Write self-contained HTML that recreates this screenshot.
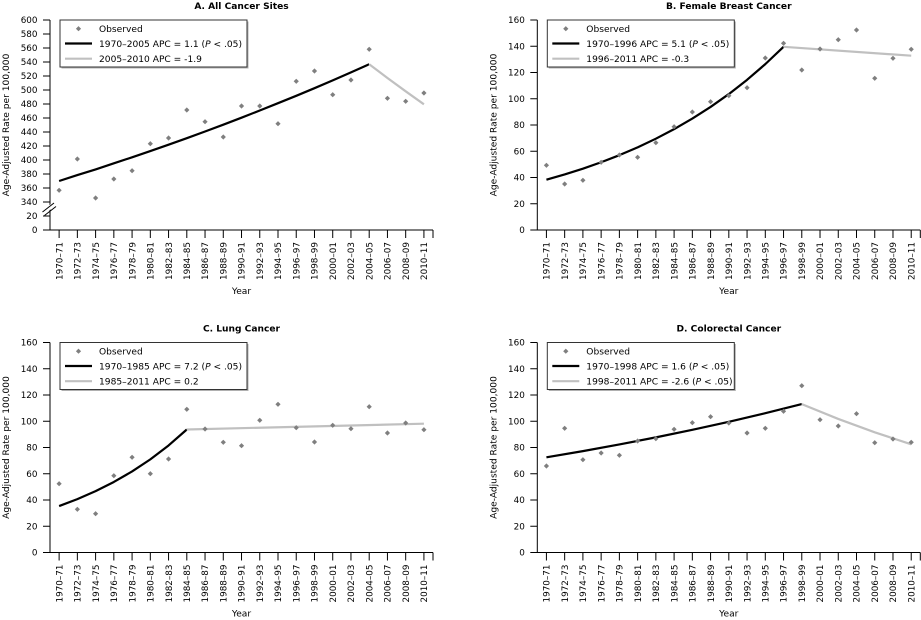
<!DOCTYPE html>
<html><head><meta charset="utf-8"><style>
html,body{margin:0;padding:0;background:#fff;}
svg{display:block;font-family:"DejaVu Sans","Liberation Sans",sans-serif;}
.tk{font-size:8.8px;fill:#000;}
.lg{font-size:9.1px;fill:#000;}
.ti{font-size:9.1px;font-weight:bold;fill:#000;}
.ax{font-size:9.1px;fill:#000;}
</style></head><body>
<svg width="921" height="620" viewBox="0 0 921 620" xmlns="http://www.w3.org/2000/svg">
<rect width="921" height="620" fill="#fff"/>

<!-- ================= PANEL A ================= -->
<g>
<text class="ti" x="241.5" y="8.8" text-anchor="middle">A. All Cancer Sites</text>
<text class="ax" transform="translate(9,125) rotate(-90)" text-anchor="middle">Age-Adjusted Rate per 100,000</text>
<path d="M50 20V230H433M433 230v8" stroke="#000" stroke-width="1" fill="none"/>
<path d="M43 20H50M43 34H50M43 48H50M43 62H50M43 76H50M43 90H50M43 104H50M43 118H50M43 132H50M43 146H50M43 160H50M43 174H50M43 188H50M43 202H50M43 216H50M43 230H50" stroke="#000" stroke-width="1"/>
<polygon points="42,211 56,200 56,205 42,216" fill="#fff"/>
<path d="M42.5 212L54 203M44.5 215.5L56 206.5" stroke="#000" stroke-width="1"/>
<g class="tk" text-anchor="end">
<text x="37.5" y="23.2">600</text><text x="37.5" y="37.2">580</text><text x="37.5" y="51.2">560</text><text x="37.5" y="65.2">540</text><text x="37.5" y="79.2">520</text><text x="37.5" y="93.2">500</text><text x="37.5" y="107.2">480</text><text x="37.5" y="121.2">460</text><text x="37.5" y="135.2">440</text><text x="37.5" y="149.2">420</text><text x="37.5" y="163.2">400</text><text x="37.5" y="177.2">380</text><text x="37.5" y="191.2">360</text><text x="37.5" y="205.2">340</text><text x="37.5" y="219.2">20</text><text x="37.5" y="233.2">0</text>
</g>
<path d="M59.12 230v8M77.36 230v8M95.6 230v8M113.84 230v8M132.08 230v8M150.32 230v8M168.56 230v8M186.8 230v8M205.04 230v8M223.28 230v8M241.52 230v8M259.76 230v8M278 230v8M296.24 230v8M314.48 230v8M332.72 230v8M350.96 230v8M369.2 230v8M387.44 230v8M405.68 230v8M423.92 230v8" stroke="#000" stroke-width="1"/>
<g class="tk" text-anchor="end">
<text transform="translate(62.32,242) rotate(-90)">1970–71</text><text transform="translate(80.56,242) rotate(-90)">1972–73</text><text transform="translate(98.8,242) rotate(-90)">1974–75</text><text transform="translate(117.04,242) rotate(-90)">1976–77</text><text transform="translate(135.28,242) rotate(-90)">1978–79</text><text transform="translate(153.52,242) rotate(-90)">1980–81</text><text transform="translate(171.76,242) rotate(-90)">1982–83</text><text transform="translate(190,242) rotate(-90)">1984–85</text><text transform="translate(208.24,242) rotate(-90)">1986–87</text><text transform="translate(226.48,242) rotate(-90)">1988–89</text><text transform="translate(244.72,242) rotate(-90)">1990–91</text><text transform="translate(262.96,242) rotate(-90)">1992–93</text><text transform="translate(281.2,242) rotate(-90)">1994–95</text><text transform="translate(299.44,242) rotate(-90)">1996–97</text><text transform="translate(317.68,242) rotate(-90)">1998–99</text><text transform="translate(335.92,242) rotate(-90)">2000–01</text><text transform="translate(354.16,242) rotate(-90)">2002–03</text><text transform="translate(372.4,242) rotate(-90)">2004–05</text><text transform="translate(390.64,242) rotate(-90)">2006–07</text><text transform="translate(408.88,242) rotate(-90)">2008–09</text><text transform="translate(427.12,242) rotate(-90)">2010–11</text>
</g>
<text class="ax" x="241.5" y="294" text-anchor="middle">Year</text>
<polyline points="59.12,181 77.36,175.1 95.6,169.4 113.84,163.3 132.08,157.3 150.32,151.1 168.56,144.7 186.8,138.2 205.04,131.5 223.28,124.7 241.52,117.7 259.76,110.5 278,103.2 296.24,95.8 314.48,88.2 332.72,80.4 350.96,72.4 369.2,64.3" fill="none" stroke="#000" stroke-width="2.2" stroke-linejoin="round"/>
<polyline points="369.2,64.3 387.44,78 405.68,91.3 423.92,104.3" fill="none" stroke="#c0c0c0" stroke-width="2.2" stroke-linejoin="round"/>
<path fill="#7f7f7f" d="M59.12 190.3m0-2.6l2.6 2.6-2.6 2.6-2.6-2.6zM77.36 159m0-2.6l2.6 2.6-2.6 2.6-2.6-2.6zM95.6 198m0-2.6l2.6 2.6-2.6 2.6-2.6-2.6zM113.84 179m0-2.6l2.6 2.6-2.6 2.6-2.6-2.6zM132.08 170.7m0-2.6l2.6 2.6-2.6 2.6-2.6-2.6zM150.32 143.7m0-2.6l2.6 2.6-2.6 2.6-2.6-2.6zM168.56 138m0-2.6l2.6 2.6-2.6 2.6-2.6-2.6zM186.8 110m0-2.6l2.6 2.6-2.6 2.6-2.6-2.6zM205.04 121.7m0-2.6l2.6 2.6-2.6 2.6-2.6-2.6zM223.28 137m0-2.6l2.6 2.6-2.6 2.6-2.6-2.6zM241.52 106m0-2.6l2.6 2.6-2.6 2.6-2.6-2.6zM259.76 106m0-2.6l2.6 2.6-2.6 2.6-2.6-2.6zM278 123.7m0-2.6l2.6 2.6-2.6 2.6-2.6-2.6zM296.24 81.3m0-2.6l2.6 2.6-2.6 2.6-2.6-2.6zM314.48 71m0-2.6l2.6 2.6-2.6 2.6-2.6-2.6zM332.72 94.7m0-2.6l2.6 2.6-2.6 2.6-2.6-2.6zM350.96 80m0-2.6l2.6 2.6-2.6 2.6-2.6-2.6zM369.2 49.3m0-2.6l2.6 2.6-2.6 2.6-2.6-2.6zM387.44 98.3m0-2.6l2.6 2.6-2.6 2.6-2.6-2.6zM405.68 101.3m0-2.6l2.6 2.6-2.6 2.6-2.6-2.6zM423.92 93m0-2.6l2.6 2.6-2.6 2.6-2.6-2.6z"/>
<rect x="61.5" y="21.5" width="187" height="47" fill="#b0b0b0"/>
<rect x="60" y="20" width="187" height="47" fill="#fff" stroke="#333" stroke-width="1"/>
<path fill="#7f7f7f" d="M78.5 28.7m0-2.6l2.6 2.6-2.6 2.6-2.6-2.6z"/>
<line x1="65" y1="43.5" x2="92" y2="43.5" stroke="#000" stroke-width="2.2"/>
<line x1="65" y1="58.7" x2="92" y2="58.7" stroke="#c0c0c0" stroke-width="2.2"/>
<text class="lg" x="99" y="32">Observed</text>
<text class="lg" x="99" y="47">1970–2005 APC = 1.1 (<tspan font-style="italic">P</tspan> &lt; .05)</text>
<text class="lg" x="99" y="62">2005–2010 APC = -1.9</text>
</g>

<!-- ================= PANEL B ================= -->
<g transform="translate(487.3,0)">
<text class="ti" x="241.5" y="8.8" text-anchor="middle">B. Female Breast Cancer</text>
<text class="ax" transform="translate(9,125) rotate(-90)" text-anchor="middle">Age-Adjusted Rate per 100,000</text>
<path d="M50 20V230H433M433 230v8" stroke="#000" stroke-width="1" fill="none"/>
<path d="M43 20H50M43 46.25H50M43 72.5H50M43 98.75H50M43 125H50M43 151.25H50M43 177.5H50M43 203.75H50M43 230H50" stroke="#000" stroke-width="1"/>
<g class="tk" text-anchor="end">
<text x="37.5" y="23.2">160</text><text x="37.5" y="49.45">140</text><text x="37.5" y="75.7">120</text><text x="37.5" y="101.95">100</text><text x="37.5" y="128.2">80</text><text x="37.5" y="154.45">60</text><text x="37.5" y="180.7">40</text><text x="37.5" y="206.95">20</text><text x="37.5" y="233.2">0</text>
</g>
<path d="M59.12 230v8M77.36 230v8M95.6 230v8M113.84 230v8M132.08 230v8M150.32 230v8M168.56 230v8M186.8 230v8M205.04 230v8M223.28 230v8M241.52 230v8M259.76 230v8M278 230v8M296.24 230v8M314.48 230v8M332.72 230v8M350.96 230v8M369.2 230v8M387.44 230v8M405.68 230v8M423.92 230v8" stroke="#000" stroke-width="1"/>
<g class="tk" text-anchor="end">
<text transform="translate(62.32,242) rotate(-90)">1970–71</text><text transform="translate(80.56,242) rotate(-90)">1972–73</text><text transform="translate(98.8,242) rotate(-90)">1974–75</text><text transform="translate(117.04,242) rotate(-90)">1976–77</text><text transform="translate(135.28,242) rotate(-90)">1978–79</text><text transform="translate(153.52,242) rotate(-90)">1980–81</text><text transform="translate(171.76,242) rotate(-90)">1982–83</text><text transform="translate(190,242) rotate(-90)">1984–85</text><text transform="translate(208.24,242) rotate(-90)">1986–87</text><text transform="translate(226.48,242) rotate(-90)">1988–89</text><text transform="translate(244.72,242) rotate(-90)">1990–91</text><text transform="translate(262.96,242) rotate(-90)">1992–93</text><text transform="translate(281.2,242) rotate(-90)">1994–95</text><text transform="translate(299.44,242) rotate(-90)">1996–97</text><text transform="translate(317.68,242) rotate(-90)">1998–99</text><text transform="translate(335.92,242) rotate(-90)">2000–01</text><text transform="translate(354.16,242) rotate(-90)">2002–03</text><text transform="translate(372.4,242) rotate(-90)">2004–05</text><text transform="translate(390.64,242) rotate(-90)">2006–07</text><text transform="translate(408.88,242) rotate(-90)">2008–09</text><text transform="translate(427.12,242) rotate(-90)">2010–11</text>
</g>
<text class="ax" x="241.5" y="294" text-anchor="middle">Year</text>
<polyline points="59.12,179.73 77.36,174.47 95.6,168.67 113.84,162.25 132.08,155.17 150.32,147.34 168.56,138.69 186.8,129.14 205.04,118.6 223.28,106.94 241.52,94.07 259.76,79.85 278,64.14 296.24,46.79" fill="none" stroke="#000" stroke-width="2.2" stroke-linejoin="round"/>
<polyline points="296.24,46.79 423.92,55.7" fill="none" stroke="#c0c0c0" stroke-width="2.2"/>
<path fill="#7f7f7f" d="M59.12 165.3m0-2.6l2.6 2.6-2.6 2.6-2.6-2.6zM77.36 184m0-2.6l2.6 2.6-2.6 2.6-2.6-2.6zM95.6 180.3m0-2.6l2.6 2.6-2.6 2.6-2.6-2.6zM113.84 162.3m0-2.6l2.6 2.6-2.6 2.6-2.6-2.6zM132.08 155m0-2.6l2.6 2.6-2.6 2.6-2.6-2.6zM150.32 157.3m0-2.6l2.6 2.6-2.6 2.6-2.6-2.6zM168.56 142.7m0-2.6l2.6 2.6-2.6 2.6-2.6-2.6zM186.8 126.7m0-2.6l2.6 2.6-2.6 2.6-2.6-2.6zM205.04 112m0-2.6l2.6 2.6-2.6 2.6-2.6-2.6zM223.28 101.7m0-2.6l2.6 2.6-2.6 2.6-2.6-2.6zM241.52 95.7m0-2.6l2.6 2.6-2.6 2.6-2.6-2.6zM259.76 87.7m0-2.6l2.6 2.6-2.6 2.6-2.6-2.6zM278 58m0-2.6l2.6 2.6-2.6 2.6-2.6-2.6zM296.24 43.3m0-2.6l2.6 2.6-2.6 2.6-2.6-2.6zM314.48 70m0-2.6l2.6 2.6-2.6 2.6-2.6-2.6zM332.72 49m0-2.6l2.6 2.6-2.6 2.6-2.6-2.6zM350.96 39.7m0-2.6l2.6 2.6-2.6 2.6-2.6-2.6zM369.2 30m0-2.6l2.6 2.6-2.6 2.6-2.6-2.6zM387.44 78.3m0-2.6l2.6 2.6-2.6 2.6-2.6-2.6zM405.68 58.3m0-2.6l2.6 2.6-2.6 2.6-2.6-2.6zM423.92 49.3m0-2.6l2.6 2.6-2.6 2.6-2.6-2.6z"/>
<rect x="61.5" y="21.5" width="187" height="47" fill="#b0b0b0"/>
<rect x="60" y="20" width="187" height="47" fill="#fff" stroke="#333" stroke-width="1"/>
<path fill="#7f7f7f" d="M78.5 28.7m0-2.6l2.6 2.6-2.6 2.6-2.6-2.6z"/>
<line x1="65" y1="43.5" x2="92" y2="43.5" stroke="#000" stroke-width="2.2"/>
<line x1="65" y1="58.7" x2="92" y2="58.7" stroke="#c0c0c0" stroke-width="2.2"/>
<text class="lg" x="99" y="32">Observed</text>
<text class="lg" x="99" y="47">1970–1996 APC = 5.1 (<tspan font-style="italic">P</tspan> &lt; .05)</text>
<text class="lg" x="99" y="62">1996–2011 APC = -0.3</text>
</g>

<!-- ================= PANEL C ================= -->
<g transform="translate(0,322.5)">
<text class="ti" x="241.5" y="8.8" text-anchor="middle">C. Lung Cancer</text>
<text class="ax" transform="translate(9,125) rotate(-90)" text-anchor="middle">Age-Adjusted Rate per 100,000</text>
<path d="M50 20V230H433M433 230v8" stroke="#000" stroke-width="1" fill="none"/>
<path d="M43 20H50M43 46.25H50M43 72.5H50M43 98.75H50M43 125H50M43 151.25H50M43 177.5H50M43 203.75H50M43 230H50" stroke="#000" stroke-width="1"/>
<g class="tk" text-anchor="end">
<text x="37.5" y="23.2">160</text><text x="37.5" y="49.45">140</text><text x="37.5" y="75.7">120</text><text x="37.5" y="101.95">100</text><text x="37.5" y="128.2">80</text><text x="37.5" y="154.45">60</text><text x="37.5" y="180.7">40</text><text x="37.5" y="206.95">20</text><text x="37.5" y="233.2">0</text>
</g>
<path d="M59.12 230v8M77.36 230v8M95.6 230v8M113.84 230v8M132.08 230v8M150.32 230v8M168.56 230v8M186.8 230v8M205.04 230v8M223.28 230v8M241.52 230v8M259.76 230v8M278 230v8M296.24 230v8M314.48 230v8M332.72 230v8M350.96 230v8M369.2 230v8M387.44 230v8M405.68 230v8M423.92 230v8" stroke="#000" stroke-width="1"/>
<g class="tk" text-anchor="end">
<text transform="translate(62.32,242) rotate(-90)">1970–71</text><text transform="translate(80.56,242) rotate(-90)">1972–73</text><text transform="translate(98.8,242) rotate(-90)">1974–75</text><text transform="translate(117.04,242) rotate(-90)">1976–77</text><text transform="translate(135.28,242) rotate(-90)">1978–79</text><text transform="translate(153.52,242) rotate(-90)">1980–81</text><text transform="translate(171.76,242) rotate(-90)">1982–83</text><text transform="translate(190,242) rotate(-90)">1984–85</text><text transform="translate(208.24,242) rotate(-90)">1986–87</text><text transform="translate(226.48,242) rotate(-90)">1988–89</text><text transform="translate(244.72,242) rotate(-90)">1990–91</text><text transform="translate(262.96,242) rotate(-90)">1992–93</text><text transform="translate(281.2,242) rotate(-90)">1994–95</text><text transform="translate(299.44,242) rotate(-90)">1996–97</text><text transform="translate(317.68,242) rotate(-90)">1998–99</text><text transform="translate(335.92,242) rotate(-90)">2000–01</text><text transform="translate(354.16,242) rotate(-90)">2002–03</text><text transform="translate(372.4,242) rotate(-90)">2004–05</text><text transform="translate(390.64,242) rotate(-90)">2006–07</text><text transform="translate(408.88,242) rotate(-90)">2008–09</text><text transform="translate(427.12,242) rotate(-90)">2010–11</text>
</g>
<text class="ax" x="241.5" y="294" text-anchor="middle">Year</text>
<polyline points="59.12,183.54 77.36,176.6 95.6,168.64 113.84,159.48 132.08,148.95 150.32,136.86 168.56,122.97 186.8,106.99" fill="none" stroke="#000" stroke-width="2.2" stroke-linejoin="round"/>
<polyline points="186.8,107 423.92,101.2" fill="none" stroke="#c0c0c0" stroke-width="2.2"/>
<path fill="#7f7f7f" d="M59.12 161.2m0-2.6l2.6 2.6-2.6 2.6-2.6-2.6zM77.36 186.8m0-2.6l2.6 2.6-2.6 2.6-2.6-2.6zM95.6 191.2m0-2.6l2.6 2.6-2.6 2.6-2.6-2.6zM113.84 153.2m0-2.6l2.6 2.6-2.6 2.6-2.6-2.6zM132.08 134.8m0-2.6l2.6 2.6-2.6 2.6-2.6-2.6zM150.32 151.2m0-2.6l2.6 2.6-2.6 2.6-2.6-2.6zM168.56 136.5m0-2.6l2.6 2.6-2.6 2.6-2.6-2.6zM186.8 86.8m0-2.6l2.6 2.6-2.6 2.6-2.6-2.6zM205.04 106.5m0-2.6l2.6 2.6-2.6 2.6-2.6-2.6zM223.28 119.8m0-2.6l2.6 2.6-2.6 2.6-2.6-2.6zM241.52 123.2m0-2.6l2.6 2.6-2.6 2.6-2.6-2.6zM259.76 97.8m0-2.6l2.6 2.6-2.6 2.6-2.6-2.6zM278 81.8m0-2.6l2.6 2.6-2.6 2.6-2.6-2.6zM296.24 105.2m0-2.6l2.6 2.6-2.6 2.6-2.6-2.6zM314.48 119.5m0-2.6l2.6 2.6-2.6 2.6-2.6-2.6zM332.72 102.8m0-2.6l2.6 2.6-2.6 2.6-2.6-2.6zM350.96 106.2m0-2.6l2.6 2.6-2.6 2.6-2.6-2.6zM369.2 84.2m0-2.6l2.6 2.6-2.6 2.6-2.6-2.6zM387.44 110.5m0-2.6l2.6 2.6-2.6 2.6-2.6-2.6zM405.68 100.5m0-2.6l2.6 2.6-2.6 2.6-2.6-2.6zM423.92 107.2m0-2.6l2.6 2.6-2.6 2.6-2.6-2.6z"/>
<rect x="61.5" y="21.5" width="187" height="47" fill="#b0b0b0"/>
<rect x="60" y="20" width="187" height="47" fill="#fff" stroke="#333" stroke-width="1"/>
<path fill="#7f7f7f" d="M78.5 28.7m0-2.6l2.6 2.6-2.6 2.6-2.6-2.6z"/>
<line x1="65" y1="43.5" x2="92" y2="43.5" stroke="#000" stroke-width="2.2"/>
<line x1="65" y1="58.7" x2="92" y2="58.7" stroke="#c0c0c0" stroke-width="2.2"/>
<text class="lg" x="99" y="32">Observed</text>
<text class="lg" x="99" y="47">1970–1985 APC = 7.2 (<tspan font-style="italic">P</tspan> &lt; .05)</text>
<text class="lg" x="99" y="62">1985–2011 APC = 0.2</text>
</g>

<!-- ================= PANEL D ================= -->
<g transform="translate(487.3,322.5)">
<text class="ti" x="241.5" y="8.8" text-anchor="middle">D. Colorectal Cancer</text>
<text class="ax" transform="translate(9,125) rotate(-90)" text-anchor="middle">Age-Adjusted Rate per 100,000</text>
<path d="M50 20V230H433M433 230v8" stroke="#000" stroke-width="1" fill="none"/>
<path d="M43 20H50M43 46.25H50M43 72.5H50M43 98.75H50M43 125H50M43 151.25H50M43 177.5H50M43 203.75H50M43 230H50" stroke="#000" stroke-width="1"/>
<g class="tk" text-anchor="end">
<text x="37.5" y="23.2">160</text><text x="37.5" y="49.45">140</text><text x="37.5" y="75.7">120</text><text x="37.5" y="101.95">100</text><text x="37.5" y="128.2">80</text><text x="37.5" y="154.45">60</text><text x="37.5" y="180.7">40</text><text x="37.5" y="206.95">20</text><text x="37.5" y="233.2">0</text>
</g>
<path d="M59.12 230v8M77.36 230v8M95.6 230v8M113.84 230v8M132.08 230v8M150.32 230v8M168.56 230v8M186.8 230v8M205.04 230v8M223.28 230v8M241.52 230v8M259.76 230v8M278 230v8M296.24 230v8M314.48 230v8M332.72 230v8M350.96 230v8M369.2 230v8M387.44 230v8M405.68 230v8M423.92 230v8" stroke="#000" stroke-width="1"/>
<g class="tk" text-anchor="end">
<text transform="translate(62.32,242) rotate(-90)">1970–71</text><text transform="translate(80.56,242) rotate(-90)">1972–73</text><text transform="translate(98.8,242) rotate(-90)">1974–75</text><text transform="translate(117.04,242) rotate(-90)">1976–77</text><text transform="translate(135.28,242) rotate(-90)">1978–79</text><text transform="translate(153.52,242) rotate(-90)">1980–81</text><text transform="translate(171.76,242) rotate(-90)">1982–83</text><text transform="translate(190,242) rotate(-90)">1984–85</text><text transform="translate(208.24,242) rotate(-90)">1986–87</text><text transform="translate(226.48,242) rotate(-90)">1988–89</text><text transform="translate(244.72,242) rotate(-90)">1990–91</text><text transform="translate(262.96,242) rotate(-90)">1992–93</text><text transform="translate(281.2,242) rotate(-90)">1994–95</text><text transform="translate(299.44,242) rotate(-90)">1996–97</text><text transform="translate(317.68,242) rotate(-90)">1998–99</text><text transform="translate(335.92,242) rotate(-90)">2000–01</text><text transform="translate(354.16,242) rotate(-90)">2002–03</text><text transform="translate(372.4,242) rotate(-90)">2004–05</text><text transform="translate(390.64,242) rotate(-90)">2006–07</text><text transform="translate(408.88,242) rotate(-90)">2008–09</text><text transform="translate(427.12,242) rotate(-90)">2010–11</text>
</g>
<text class="ax" x="241.5" y="294" text-anchor="middle">Year</text>
<polyline points="59.12,134.84 95.6,128.61 132.08,121.96 168.56,114.88 205.04,107.33 241.52,99.29 278,90.72 314.48,81.6" fill="none" stroke="#000" stroke-width="2.2" stroke-linejoin="round"/>
<polyline points="314.48,81.6 350.96,96.43 387.44,109.79 423.92,121.81" fill="none" stroke="#c0c0c0" stroke-width="2.2" stroke-linejoin="round"/>
<path fill="#7f7f7f" d="M59.12 143.5m0-2.6l2.6 2.6-2.6 2.6-2.6-2.6zM77.36 105.8m0-2.6l2.6 2.6-2.6 2.6-2.6-2.6zM95.6 137.2m0-2.6l2.6 2.6-2.6 2.6-2.6-2.6zM113.84 130.5m0-2.6l2.6 2.6-2.6 2.6-2.6-2.6zM132.08 132.8m0-2.6l2.6 2.6-2.6 2.6-2.6-2.6zM150.32 118.5m0-2.6l2.6 2.6-2.6 2.6-2.6-2.6zM168.56 116.2m0-2.6l2.6 2.6-2.6 2.6-2.6-2.6zM186.8 106.8m0-2.6l2.6 2.6-2.6 2.6-2.6-2.6zM205.04 100.2m0-2.6l2.6 2.6-2.6 2.6-2.6-2.6zM223.28 94.2m0-2.6l2.6 2.6-2.6 2.6-2.6-2.6zM241.52 100.5m0-2.6l2.6 2.6-2.6 2.6-2.6-2.6zM259.76 110.5m0-2.6l2.6 2.6-2.6 2.6-2.6-2.6zM278 105.8m0-2.6l2.6 2.6-2.6 2.6-2.6-2.6zM296.24 88.8m0-2.6l2.6 2.6-2.6 2.6-2.6-2.6zM314.48 63.2m0-2.6l2.6 2.6-2.6 2.6-2.6-2.6zM332.72 97.2m0-2.6l2.6 2.6-2.6 2.6-2.6-2.6zM350.96 103.5m0-2.6l2.6 2.6-2.6 2.6-2.6-2.6zM369.2 91.2m0-2.6l2.6 2.6-2.6 2.6-2.6-2.6zM387.44 120.2m0-2.6l2.6 2.6-2.6 2.6-2.6-2.6zM405.68 116.5m0-2.6l2.6 2.6-2.6 2.6-2.6-2.6zM423.92 119.8m0-2.6l2.6 2.6-2.6 2.6-2.6-2.6z"/>
<rect x="61.5" y="21.5" width="187" height="47" fill="#b0b0b0"/>
<rect x="60" y="20" width="187" height="47" fill="#fff" stroke="#333" stroke-width="1"/>
<path fill="#7f7f7f" d="M78.5 28.7m0-2.6l2.6 2.6-2.6 2.6-2.6-2.6z"/>
<line x1="65" y1="43.5" x2="92" y2="43.5" stroke="#000" stroke-width="2.2"/>
<line x1="65" y1="58.7" x2="92" y2="58.7" stroke="#c0c0c0" stroke-width="2.2"/>
<text class="lg" x="99" y="32">Observed</text>
<text class="lg" x="99" y="47">1970–1998 APC = 1.6 (<tspan font-style="italic">P</tspan> &lt; .05)</text>
<text class="lg" x="99" y="62">1998–2011 APC = -2.6 (<tspan font-style="italic">P</tspan> &lt; .05)</text>
</g>
</svg>
</body></html>
